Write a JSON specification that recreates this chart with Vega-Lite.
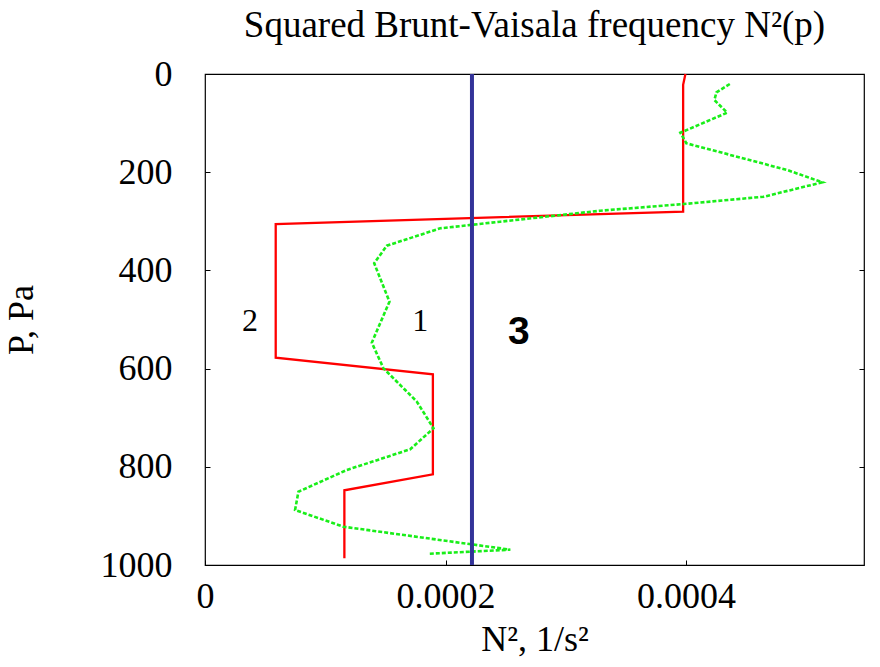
{
  "$schema": "https://vega.github.io/schema/vega-lite/v6.json",
  "width": 659,
  "height": 491,
  "autosize": {"type": "none"},
  "padding": {"left": 205, "top": 74, "right": 16, "bottom": 102},
  "background": "white",
  "config": {
    "view": {"stroke": "black", "strokeWidth": 1.2},
    "font": "Liberation Serif",
    "axis": {
      "labelFont": "Liberation Serif",
      "labelFontSize": 36,
      "labelColor": "black",
      "labelFlush": false,
      "titleFont": "Liberation Serif",
      "titleFontSize": 36,
      "titleFontWeight": "normal",
      "titleColor": "black",
      "tickColor": "black",
      "tickSize": -5,
      "domain": false,
      "grid": false
    }
  },
  "title": {
    "text": "Squared Brunt-Vaisala frequency N²(p)",
    "font": "Liberation Serif",
    "fontSize": 37,
    "fontWeight": "normal",
    "color": "black",
    "anchor": "middle",
    "frame": "group",
    "offset": 11
  },
  "datasets": {
    "curve2": [
      {"N2": 0.0003995, "P": 0},
      {"N2": 0.0003976, "P": 22},
      {"N2": 0.0003976, "P": 280.4},
      {"N2": 0.0000588, "P": 305.5},
      {"N2": 0.0000588, "P": 577.8},
      {"N2": 0.0001895, "P": 611.6},
      {"N2": 0.0001895, "P": 815.3},
      {"N2": 0.0001159, "P": 847.9},
      {"N2": 0.0001159, "P": 986.4}
    ],
    "curve1": [
      {"N2": 0.0004364, "P": 20.4},
      {"N2": 0.0004253, "P": 37.3},
      {"N2": 0.0004236, "P": 53},
      {"N2": 0.0004342, "P": 78.8},
      {"N2": 0.0003953, "P": 119.6},
      {"N2": 0.0004003, "P": 141.1},
      {"N2": 0.0004841, "P": 195.5},
      {"N2": 0.0005133, "P": 220.6},
      {"N2": 0.0004647, "P": 249.9},
      {"N2": 0.0003981, "P": 264.8},
      {"N2": 0.0003288, "P": 278.4},
      {"N2": 0.0002455, "P": 300.8},
      {"N2": 0.0001956, "P": 314.3},
      {"N2": 0.0001512, "P": 349.7},
      {"N2": 0.0001407, "P": 385.5},
      {"N2": 0.0001534, "P": 463.7},
      {"N2": 0.0001387, "P": 547.2},
      {"N2": 0.0001484, "P": 599.4},
      {"N2": 0.0001596, "P": 626.7},
      {"N2": 0.0001762, "P": 667.4},
      {"N2": 0.00019, "P": 721.6},
      {"N2": 0.0001706, "P": 764.4},
      {"N2": 0.0001179, "P": 806.5},
      {"N2": 0.0000777, "P": 850.7},
      {"N2": 0.0000749, "P": 888},
      {"N2": 0.0001151, "P": 922},
      {"N2": 0.0002539, "P": 968.8},
      {"N2": 0.0001867, "P": 977}
    ],
    "curve3": [{"N2": 0.000222}],
    "labels": [
      {"N2": 0.0000375, "P": 503, "label": "2"},
      {"N2": 0.000179, "P": 503, "label": "1"}
    ],
    "labels3": [
      {"N2": 0.000261, "P": 525, "label": "3"}
    ]
  },
  "layer": [
    {
      "data": {"name": "curve2"},
      "mark": {"type": "line", "color": "#ff0000", "strokeWidth": 2.3},
      "encoding": {
        "x": {"field": "N2", "type": "quantitative",
              "scale": {"domain": [0, 0.000548], "nice": false, "zero": false},
              "axis": {"values": [0, 0.0002, 0.0004], "format": ".4~f", "title": "N², 1/s²", "labelPadding": 19, "titlePadding": 8}},
        "y": {"field": "P", "type": "quantitative",
              "scale": {"domain": [0, 1000], "reverse": true, "nice": false, "zero": false},
              "axis": {"orient": "left", "values": [0, 200, 400, 600, 800, 1000], "format": "d", "title": "P, Pa", "labelPadding": 38, "titlePadding": 60}},
        "order": {"field": "P", "type": "quantitative"}
      }
    },
    {
      "data": {"name": "curve1"},
      "mark": {"type": "line", "color": "#19ee19", "strokeWidth": 2.6, "strokeDash": [4, 2]},
      "encoding": {
        "x": {"field": "N2", "type": "quantitative"},
        "y": {"field": "P", "type": "quantitative",
              "axis": {"orient": "right", "values": [200, 400, 600, 800], "labels": false, "title": null}},
        "order": {"field": "P", "type": "quantitative"}
      }
    },
    {
      "data": {"name": "curve3"},
      "mark": {"type": "rule", "color": "#333399", "strokeWidth": 4},
      "encoding": {
        "x": {"field": "N2", "type": "quantitative"}
      }
    },
    {
      "data": {"name": "labels"},
      "mark": {"type": "text", "font": "Liberation Serif", "fontSize": 32, "color": "black", "align": "center", "baseline": "middle"},
      "encoding": {
        "x": {"field": "N2", "type": "quantitative"},
        "y": {"field": "P", "type": "quantitative", "axis": null},
        "text": {"field": "label"}
      }
    },
    {
      "data": {"name": "labels3"},
      "mark": {"type": "text", "font": "Liberation Sans", "fontWeight": "bold", "fontSize": 39, "color": "black", "align": "center", "baseline": "middle"},
      "encoding": {
        "x": {"field": "N2", "type": "quantitative"},
        "y": {"field": "P", "type": "quantitative", "axis": null},
        "text": {"field": "label"}
      }
    }
  ],
  "resolve": {"axis": {"y": "independent"}}
}
